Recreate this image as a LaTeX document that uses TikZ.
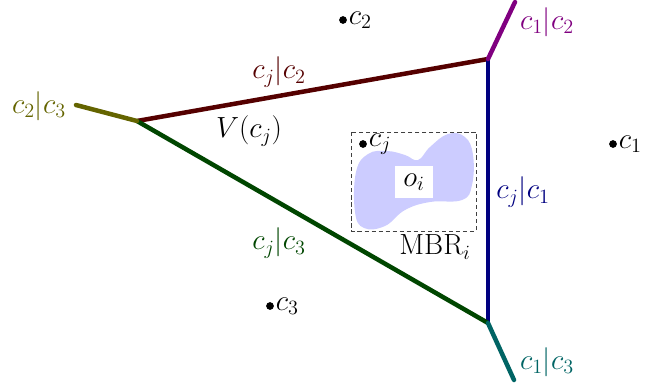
\documentclass[tikz,border=0pt]{standalone}
\usepackage{amsmath}
\begin{document}
\begin{tikzpicture}[x=0.025cm,y=-0.025cm,
  edge/.style={line width=3.2pt},
  lbl/.style={font=\fontsize{19.5}{23}\selectfont, inner sep=1pt},
  dot/.style={circle, fill=black, inner sep=0pt, minimum size=5.5pt}]
\useasboundingbox (0,0) rectangle (655,387);
\definecolor{cA}{RGB}{85,0,0}
\definecolor{cB}{RGB}{0,0,128}
\definecolor{cC}{RGB}{0,70,0}
\definecolor{cD}{RGB}{100,100,0}
\definecolor{cE}{RGB}{128,0,128}
\definecolor{cF}{RGB}{0,100,100}
\definecolor{blob}{RGB}{204,204,255}
% vertices
\coordinate (A) at (137,121);
\coordinate (B) at (488,59);
\coordinate (C) at (488,323);
\coordinate (eA) at (76,105);
\coordinate (eB) at (515,2);
\coordinate (eC) at (514,380);
% blob
\fill[blob] plot[smooth cycle, tension=0.7] coordinates {(356,172) (368,154) (387,151) (405,155) (418,160) (430,147) (448,134) (465,137) (473,155) (472,185) (462,200) (430,202) (405,210) (385,226) (364,228) (355,212)};
\fill[white] (395,166) rectangle (433,198);
\node[lbl] (oi) at (414,182) {$o_i$};
% MBR
\draw[densely dashed, black!75, line width=0.6pt] (351,132) rectangle (476,231);
\node[lbl] (mbr) at (435,247) {$\mathrm{MBR}_i$};
% edges
\draw[edge, cA] (A) -- (B);
\draw[edge, cB] (B) -- (C);
\draw[edge, cC] (A) -- (C);
\draw[edge, cD, line cap=round] (A) -- (eA);
\draw[edge, cE, line cap=round] (B) -- (eB);
\draw[edge, cF, line cap=round] (C) -- (eC);
% points
\node[dot] (p2) at (343,20) {};
\node[lbl, anchor=west] (l2) at (p2.east) {$c_2$};
\node[dot] (p1) at (613,144) {};
\node[lbl, anchor=west] (l1) at (p1.east) {$c_1$};
\node[dot] (p3) at (270,306) {};
\node[lbl, anchor=west] (l3) at (p3.east) {$c_3$};
\node[dot] (pj) at (363,144) {};
\node[lbl, anchor=west] (lj) at (pj.east) {$c_j$};
% labels
\node[lbl, cA] (lab1) at (279,72) {$c_j|c_2$};
\node[lbl, cB] (lab2) at (523,192) {$c_j|c_1$};
\node[lbl, cC] (lab3) at (279,243) {$c_j|c_3$};
\node[lbl, cD] (lab4) at (39,106) {$c_2|c_3$};
\node[lbl, cE] (lab5) at (547,22) {$c_1|c_2$};
\node[lbl, cF] (lab6) at (547,362) {$c_1|c_3$};
\node[lbl] (V) at (249,131) {$V(c_j)$};
\end{tikzpicture}
\end{document}
